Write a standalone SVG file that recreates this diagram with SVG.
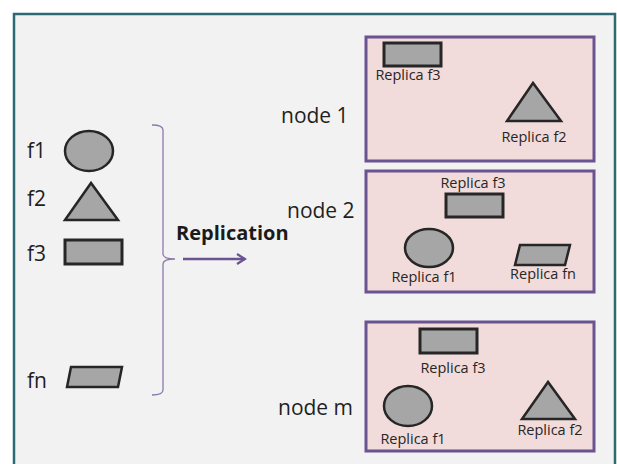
<svg xmlns="http://www.w3.org/2000/svg" width="617" height="464" viewBox="0 0 617 464">
  <defs>
    <style>
      .lbl { font-family: "Open Sans", "Liberation Sans", sans-serif; font-size: 21px; fill: #1f1f1f; }
      .rep { font-family: "Open Sans", "Liberation Sans", sans-serif; font-size: 14.5px; fill: #262626; text-anchor: middle; }
      .bold { font-family: "Open Sans", "Liberation Sans", sans-serif; font-size: 20px; font-weight: bold; fill: #1a1a1a; }
      .box { fill: #f2dcdb; stroke: #6b5290; stroke-width: 3; }
      .shape { fill: #a6a6a6; stroke: #262626; stroke-width: 2.5; stroke-linejoin: miter; }
      .rshape { fill: #a6a6a6; stroke: #262626; stroke-width: 3; }
    </style>
    <marker id="arrow" viewBox="0 0 12 12" refX="10" refY="6" markerWidth="12" markerHeight="12" markerUnits="userSpaceOnUse" orient="auto">
      <path d="M2,1 L10,6 L2,11" fill="none" stroke="#6b5290" stroke-width="2.2"/>
    </marker>
  </defs>

  <rect x="0" y="0" width="617" height="464" fill="#ffffff"/>
  <rect id="frame" x="14" y="14" width="601" height="470" fill="#f2f2f2" stroke="#2d6a74" stroke-width="2.5"/>

  <g id="files">
    <g id="f1">
      <text class="lbl" x="27" y="158">f1</text>
      <ellipse class="shape" cx="89" cy="151" rx="24" ry="20"/>
    </g>
    <g id="f2">
      <text class="lbl" x="27" y="206">f2</text>
      <polygon class="shape" points="91,183 65,220 118,220"/>
    </g>
    <g id="f3">
      <text class="lbl" x="27" y="261">f3</text>
      <rect class="rshape" x="65" y="240" width="57" height="24"/>
    </g>
    <g id="fn">
      <text class="lbl" x="27" y="388">fn</text>
      <polygon class="shape" points="71,367 122,367 118,387 67,387"/>
    </g>
  </g>

  <g id="connectors">
    <path d="M152,125 Q163,125 163,130 L163,254 Q163,259 175,259 Q163,259 163,264 L163,390 Q163,395 152,395" fill="none" stroke="#8b7aa8" stroke-width="1.3"/>
    <text class="bold" x="176" y="240">Replication</text>
    <line x1="183" y1="259" x2="245" y2="259" stroke="#6b5290" stroke-width="2.5" marker-end="url(#arrow)"/>
  </g>

  <g id="node1">
    <text class="lbl" x="281" y="123">node 1</text>
    <rect class="box" x="366" y="37" width="228" height="124"/>
    <rect class="rshape" x="384" y="43" width="57" height="23"/>
    <text class="rep" x="408" y="80">Replica f3</text>
    <polygon class="shape" points="533,83 507,121 561,121"/>
    <text class="rep" x="534" y="142">Replica f2</text>
  </g>

  <g id="node2">
    <text class="lbl" x="287" y="218">node 2</text>
    <rect class="box" x="366" y="171" width="228" height="121"/>
    <text class="rep" x="473" y="188">Replica f3</text>
    <rect class="rshape" x="446" y="194" width="57" height="23"/>
    <ellipse class="shape" cx="429" cy="248" rx="24" ry="19"/>
    <text class="rep" x="424" y="282">Replica f1</text>
    <polygon class="shape" points="520,245 570,245 565,265 515,265"/>
    <text class="rep" x="543" y="279">Replica fn</text>
  </g>

  <g id="nodem">
    <text class="lbl" x="278" y="415">node m</text>
    <rect class="box" x="366" y="322" width="228" height="129"/>
    <rect class="rshape" x="420" y="329" width="57" height="24"/>
    <text class="rep" x="453" y="373">Replica f3</text>
    <ellipse class="shape" cx="408" cy="406" rx="24" ry="20"/>
    <text class="rep" x="413" y="444">Replica f1</text>
    <polygon class="shape" points="548,382 522,419 575,419"/>
    <text class="rep" x="550" y="435">Replica f2</text>
  </g>
</svg>
